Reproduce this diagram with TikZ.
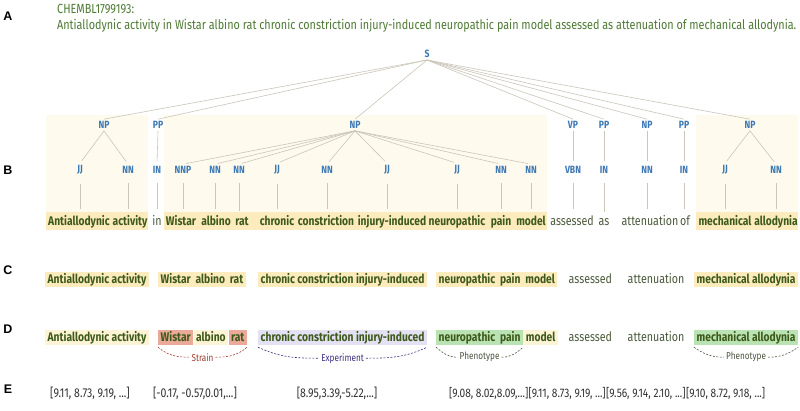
\documentclass[tikz,border=0pt]{standalone}
\usepackage{fontspec}
\setmainfont{Fira Sans}
\newfontfamily\cnd[FakeStretch=0.82]{Fira Sans}
\newfontfamily\arialf{Liberation Sans}
\definecolor{titlegreen}{HTML}{4E7A34}
\definecolor{wordgreen}{HTML}{3E5A1A}
\definecolor{plaingreen}{HTML}{4A5A3C}
\definecolor{tagblue}{HTML}{3B78B5}
\definecolor{treeline}{HTML}{CCC6BA}
\definecolor{boxbg}{HTML}{FEFAEE}
\definecolor{bandbg}{HTML}{FCEBBD}
\definecolor{lyellow}{HTML}{FDF3D5}
\definecolor{salmon}{HTML}{EAA999}
\definecolor{lavender}{HTML}{E5E1F4}
\definecolor{lgreen}{HTML}{BAE3B4}
\definecolor{strainc}{HTML}{A33A30}
\definecolor{expc}{HTML}{3E2F80}
\definecolor{phenc}{HTML}{4B5540}
\definecolor{vecc}{HTML}{333333}
\usetikzlibrary{positioning,calc}
\begin{document}
\begin{tikzpicture}[x=1pt,y=-1pt,
  panel/.style={font=\arialf\bfseries\fontsize{12.5}{14}\selectfont, text=black, inner sep=0pt},
  ttl/.style={font=\cnd\fontsize{13.2}{15}\selectfont, text=titlegreen, inner sep=0pt, anchor=base west},
  tag/.style={font=\cnd\bfseries\fontsize{10.5}{12}\selectfont, text=tagblue, inner sep=2pt},
  wb/.style={font=\cnd\bfseries\fontsize{12.5}{15}\selectfont, text=wordgreen, inner sep=0pt, anchor=base},
  wr/.style={font=\cnd\fontsize{13}{15}\selectfont, text=plaingreen, inner sep=0pt, anchor=base},
  branch/.style={draw=treeline, line width=0.6pt},
  hl/.style={font=\cnd\bfseries\fontsize{12.5}{15}\selectfont, text=wordgreen, inner xsep=2.5pt, inner ysep=1pt, text height=10pt, text depth=3pt, anchor=base west},
  pl/.style={font=\cnd\fontsize{13}{15}\selectfont, text=plaingreen, inner xsep=2.5pt, inner ysep=1pt, text height=10pt, text depth=3pt, anchor=base west},
  brk/.style={dash pattern=on 2pt off 1.5pt, line width=0.6pt},
  brl/.style={font=\cnd\fontsize{10}{12}\selectfont, inner sep=2pt},
  vec/.style={font=\cnd\fontsize{12.8}{14}\selectfont, text=vecc, inner sep=0pt},
  vecs/.style={font=\cnd\fontsize{12.4}{14}\selectfont, text=vecc, inner sep=0pt, anchor=west}
]
\useasboundingbox (0,0) rectangle (800,410);
\fill[white] (0,0) rectangle (800,410);

% panel labels
\node[panel] (lA) at (8,16) {A};
\node[panel] (lB) at (8,170) {B};
\node[panel] (lC) at (8,270) {C};
\node[panel] (lD) at (8,329) {D};
\node[panel] (lE) at (8,389) {E};

% title
\node[ttl] (t0) at (57,13) {CHEMBL1799193:};
\node[ttl] (t00) at (57,29) {Antiallodynic activity in Wistar albino rat chronic constriction injury-induced neuropathic pain model assessed as attenuation of mechanical allodynia.};

% B backgrounds
\fill[boxbg] (46,115) rectangle (148,230);
\fill[boxbg] (164,115) rectangle (547,230);
\fill[boxbg] (696,115) rectangle (798,230);
\fill[bandbg] (46,212) rectangle (148,230);
\fill[bandbg] (164,212) rectangle (547,230);
\fill[bandbg] (696,212) rectangle (798,230);

% tree
\node[tag] (S) at (427,54) {S};
\foreach \n/\x/\l in {p1/104/NP, p2/158/PP, p3/355/NP, p4/573/VP, p5/604/PP, p6/647/NP, p7/684/PP, p8/750/NP}
  \node[tag] (\n) at (\x,125) {\l};
\foreach \n/\x/\l in {t1/80/JJ, t2/128/NN, t3/157/IN, t4/183/NNP, t5/215/NN, t6/239/NN, t7/277/JJ, t8/327/NN, t9/387/JJ, t10/457/JJ, t11/501/NN, t12/531/NN, t13/573/VBN, t14/604/IN, t15/647/NN, t16/684/IN, t17/725/JJ, t18/776/NN}
  \node[tag] (\n) at (\x,170) {\l};

\foreach \p in {p1,p2,p3,p4,p5,p6,p7,p8}
  \draw[branch] (S.south) -- (\p.north);
\foreach \p/\t in {p1/t1, p1/t2, p2/t3, p3/t4, p3/t5, p3/t6, p3/t7, p3/t8, p3/t9, p3/t10, p3/t11, p3/t12, p4/t13, p5/t14, p6/t15, p7/t16, p8/t17, p8/t18}
  \draw[branch, shorten >=3pt] (\p.south) -- (\t.north);

% words of B
\node[wb] (w1) at (79,225) {Antiallodynic};
\node[wb] (w2) at (130,225) {activity};
\node[wr] (w3) at (157,225) {in};
\node[wb] (w4) at (181,225) {Wistar};
\node[wb] (w5) at (216,225) {albino};
\node[wb] (w6) at (242,225) {rat};
\node[wb] (w7) at (277,225) {chronic};
\node[wb] (w8) at (326,225) {constriction};
\node[wb] (w9) at (392,225) {injury-induced};
\node[wb] (w10) at (457,225) {neuropathic};
\node[wb] (w11) at (501,225) {pain};
\node[wb] (w12) at (531,225) {model};
\node[wr] (w13) at (572,225) {assessed};
\node[wr] (w14) at (604,225) {as};
\node[wr] (w15) at (650,225) {attenuation};
\node[wr] (w16) at (685,225) {of};
\node[wb] (w17) at (725,225) {mechanical};
\node[wb] (w18) at (776,225) {allodynia};
\foreach \t/\w in {t1/w1, t2/w2, t3/w3, t4/w4, t5/w5, t6/w6, t7/w7, t8/w8, t9/w9, t10/w10, t11/w11, t12/w12, t13/w13, t14/w14, t15/w15, t16/w16, t17/w17, t18/w18}
  \draw[branch, shorten <=7pt, shorten >=6pt] (\t.south) -- (\t.south |- \w.north);

% row C
\node[hl, fill=bandbg] (c1) at (45,283) {Antiallodynic activity};
\node[hl, fill=bandbg] (c2) at (158,283) {Wistar\ \ albino\ \ rat};
\node[hl, fill=bandbg] (c3) at (258,283) {chronic constriction injury-induced};
\node[hl, fill=bandbg] (c4) at (436,283) {neuropathic\ \ pain\ \ model};
\node[pl] (c5) at (566,283) {assessed};
\node[pl] (c6) at (625,283) {attenuation};
\node[hl, fill=bandbg] (c7) at (694,283) {mechanical allodynia};

% row D
\node[hl, fill=lyellow] (d1) at (45,341) {Antiallodynic activity};
\node[hl, fill=salmon] (d2) at (158,341) {Wistar};
\node[hl, fill=lyellow] (d3) at (d2.base east) {albino};
\node[hl, fill=salmon] (d4) at (d3.base east) {rat};
\node[hl, fill=lavender] (d5) at (258,341) {chronic constriction injury-induced};
\node[hl, fill=lgreen] (d6) at (436,341) {neuropathic\ \ pain};
\node[hl, fill=lyellow] (d7) at (d6.base east) {model};
\node[pl] (d8) at (566,341) {assessed};
\node[pl] (d9) at (625,341) {attenuation};
\node[hl, fill=lgreen] (d10) at (694,341) {mechanical allodynia};

% brackets
\node[brl, text=strainc] (ls) at ($(d2.south west)!0.5!(d4.south east)+(0,12)$) {Strain};
\node[brl, text=expc] (le) at ($(d5.south west)!0.5!(d5.south east)+(0,13)$) {Experiment};
\node[brl, text=phenc] (lp1) at ($(d6.south west)!0.5!(d6.south east)+(0,12)$) {Phenotype};
\node[brl, text=phenc] (lp2) at ($(d10.south west)!0.5!(d10.south east)+(0,12)$) {Phenotype};
\draw[brk, strainc] ([yshift=-2pt]d2.south west) to[out=-40,in=180] (ls.west);
\draw[brk, strainc] (ls.east) to[out=0,in=-140] ([yshift=-2pt]d4.south east);
\draw[brk, expc] ([yshift=-2pt]d5.south west) to[out=-25,in=180] (le.west);
\draw[brk, expc] (le.east) to[out=0,in=-155] ([yshift=-2pt]d5.south east);
\draw[brk, phenc] ([yshift=-2pt]d6.south west) to[out=-40,in=180] (lp1.west);
\draw[brk, phenc] (lp1.east) to[out=0,in=-140] ([yshift=-2pt]d6.south east);
\draw[brk, phenc] ([yshift=-2pt]d10.south west) to[out=-35,in=180] (lp2.west);
\draw[brk, phenc] (lp2.east) to[out=0,in=-145] ([yshift=-2pt]d10.south east);

% row E
\node[vec] (e1) at (90,393) {[9.11, 8.73, 9.19, ...]};
\node[vec] (e2) at (195,393) {[-0.17, -0.57,0.01,...]};
\node[vec] (e3) at (337,393) {[8.95,3.39,-5.22,...]};
\node[vecs] (e4) at (449,393) {[9.08, 8.02,8.09,...]};
\node[vecs] (e5) at (e4.east) {[9.11, 8.73, 9.19, ...]};
\node[vecs] (e6) at (e5.east) {[9.56, 9.14, 2.10, ...]};
\node[vecs] (e7) at (e6.east) {[9.10, 8.72, 9.18, ...]};
\end{tikzpicture}
\end{document}
